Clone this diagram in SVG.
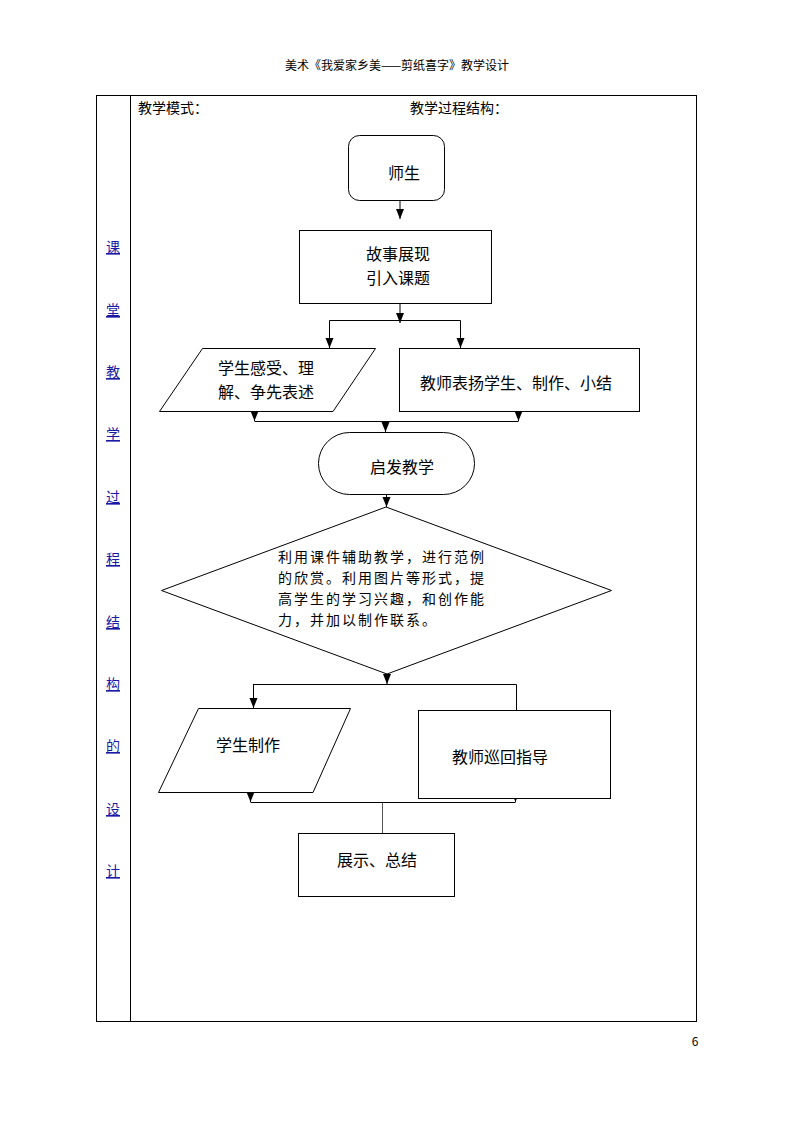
<svg xmlns="http://www.w3.org/2000/svg" width="794" height="1123" viewBox="0 0 794 1123">
<defs>
<marker id="ah" markerUnits="userSpaceOnUse" markerWidth="10" markerHeight="10" viewBox="0 0 10 10" refX="10" refY="5" orient="auto">
<path d="M0,1 L10,5 L0,9 Z" fill="#000"/>
</marker>
</defs>
<style>
text{font-family:"Noto Sans CJK SC","Liberation Sans",sans-serif;fill:#000}
.n{font-size:16px}
.d{font-size:14px;letter-spacing:2px}
.s{fill:#fff;stroke:#000;stroke-width:1}
.c{fill:none;stroke:#000;stroke-width:1}
.a{marker-end:url(#ah)}
.side{font-size:14px;fill:#1a1aa6;text-decoration:underline}
</style>
<rect width="794" height="1123" fill="#fff"/>
<text x="397" y="70" font-size="12" text-anchor="middle">美术《我爱家乡美——剪纸喜字》教学设计</text>
<g id="table">
<rect x="96.5" y="95.5" width="600" height="926" fill="none" stroke="#000"/>
<line x1="130.5" y1="95.5" x2="130.5" y2="1021.5" stroke="#000"/>
<text x="138" y="113" font-size="14">教学模式：</text>
<text x="410" y="113" font-size="14">教学过程结构：</text>
<g class="side" text-anchor="middle">
<text class="side" x="113" y="252">课</text>
<text class="side" x="113" y="315">堂</text>
<text class="side" x="113" y="377">教</text>
<text class="side" x="113" y="439">学</text>
<text class="side" x="113" y="502">过</text>
<text class="side" x="113" y="564">程</text>
<text class="side" x="113" y="627">结</text>
<text class="side" x="113" y="689">构</text>
<text class="side" x="113" y="751">的</text>
<text class="side" x="113" y="814">设</text>
<text class="side" x="113" y="876">计</text>
</g>
</g>
<g id="connectors">
<path class="c a" d="M400,200 V219"/>
<path class="c a" d="M400,303 V323"/>
<path class="c a" d="M400,320.5 H329.5 V348"/>
<path class="c a" d="M400,320.5 H460.5 V348"/>
<path class="c a" d="M254.5,411 V421"/>
<path class="c a" d="M518.5,411 V421"/>
<path class="c" d="M254.5,421.5 H518.5"/>
<path class="c a" d="M385.5,421 V432"/>
<path class="c a" d="M386.5,494 V507"/>
<path class="c a" d="M387,673 V684"/>
<path class="c" d="M253.5,684.5 H516.5 V710"/>
<path class="c a" d="M253.5,684 V708"/>
<path class="c a" d="M250.5,792 V802"/>
<path class="c a" d="M515.5,798 V802"/>
<path class="c" d="M250.5,802.5 H515.5"/>
<path d="M382.5,803 V833" stroke="#555" stroke-width="1" fill="none"/>
</g>
<g id="n1">
<rect class="s" x="348.5" y="135.5" width="96" height="65" rx="11"/>
<text class="n" x="404" y="179" text-anchor="middle">师生</text>
</g>
<g id="n2">
<rect class="s" x="299.5" y="230.5" width="192" height="73"/>
<text class="n" text-anchor="middle"><tspan x="398" y="260">故事展现</tspan><tspan x="398" y="284">引入课题</tspan></text>
</g>
<g id="n3">
<polygon class="s" points="202.5,348.5 375.5,348.5 333,411.5 159.5,411.5"/>
<text class="n"><tspan x="218" y="374">学生感受、理</tspan><tspan x="218" y="398">解、争先表述</tspan></text>
</g>
<g id="n4">
<rect class="s" x="399.5" y="348.5" width="240" height="63"/>
<text class="n" x="516" y="389" text-anchor="middle">教师表扬学生、制作、小结</text>
</g>
<g id="n5">
<rect class="s" x="318.5" y="432.5" width="156" height="62" rx="31"/>
<text class="n" x="402" y="473" text-anchor="middle">启发教学</text>
</g>
<g id="n6">
<polygon class="s" points="386,507 611.5,590.5 387,674 161.5,590.5"/>
<text class="d"><tspan x="278" y="562">利用课件辅助教学，进行范例</tspan><tspan x="278" y="583">的欣赏。利用图片等形式，提</tspan><tspan x="278" y="604">高学生的学习兴趣，和创作能</tspan><tspan x="278" y="625">力，并加以制作联系。</tspan></text>
</g>
<g id="n7">
<polygon class="s" points="198.5,708.5 350.5,708.5 313,792.5 158.5,792.5"/>
<text class="n" x="216" y="751">学生制作</text>
</g>
<g id="n8">
<rect class="s" x="418.5" y="710.5" width="192" height="88"/>
<text class="n" x="452" y="763">教师巡回指导</text>
</g>
<g id="n9">
<rect class="s" x="298.5" y="833.5" width="156" height="63"/>
<text class="n" x="337" y="866">展示、总结</text>
</g>
<text x="695" y="1046" font-size="12" text-anchor="middle">6</text>
</svg>
